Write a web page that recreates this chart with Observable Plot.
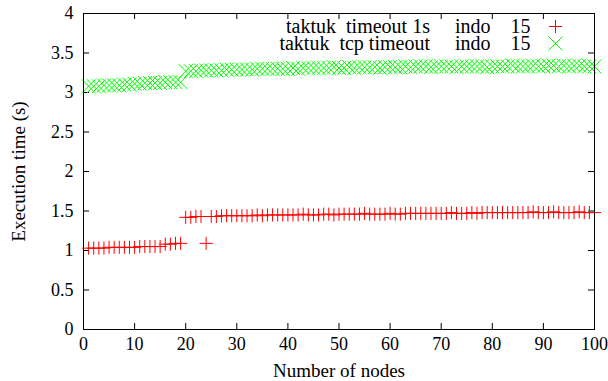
<!DOCTYPE html>
<html>
<head>
<meta charset="utf-8">
<script src="https://cdn.jsdelivr.net/npm/d3@7"></script>
<script src="https://cdn.jsdelivr.net/npm/@observablehq/plot@0.6"></script>
<style>
  html, body { margin: 0; padding: 0; background: #fff; }
  svg text { white-space: pre; }
</style>
</head>
<body>
<div id="chart"></div>
<script>
const nodes = d3.range(1, 101);

const timeout1s = [
  1.03,1.03,1.03,1.03,1.04,1.04,1.04,1.04,1.04,1.04,1.05,1.05,1.05,1.05,1.05,
  1.08,1.08,1.09,1.09,
  1.42,1.42,1.43,1.43,
  1.09,
  1.43,1.43,1.44,1.44,1.44,1.44,1.44,1.44,1.44,1.45,1.44,
  1.45,1.45,1.45,1.45,1.45,1.45,1.45,1.46,1.45,1.45,1.45,1.46,1.46,1.45,1.46,
  1.46,1.46,1.46,1.46,1.47,1.46,1.46,1.46,1.46,1.47,1.46,1.46,1.47,1.47,1.47,
  1.47,1.47,1.47,1.47,1.47,1.47,1.48,1.47,1.47,1.47,1.48,1.47,1.48,1.48,1.48,
  1.48,1.48,1.48,1.48,1.48,1.48,1.48,1.49,1.48,1.48,1.48,1.49,1.48,1.48,1.48,1.48,1.49,1.48,1.48,1.48
];

const tcpTimeout = [
  3.08,3.08,3.08,3.09,3.09,3.09,3.09,3.10,3.10,
  3.11,3.11,3.12,3.12,3.12,3.12,3.13,3.13,3.13,3.13,
  3.27,3.27,3.27,3.28,3.28,3.28,3.28,3.28,3.29,3.29,3.29,
  3.29,3.29,3.29,3.30,3.30,3.30,3.30,3.30,3.30,3.30,3.31,3.30,3.31,3.31,3.31,
  3.31,3.31,3.31,3.32,3.31,3.31,3.32,3.31,3.32,3.32,3.32,3.32,3.31,3.32,3.32,
  3.32,3.32,3.33,3.32,3.33,3.33,3.33,3.32,3.33,3.33,3.33,3.33,3.32,3.33,3.33,
  3.33,3.33,3.33,3.32,3.33,3.33,3.33,3.33,3.34,3.33,3.33,3.33,3.34,3.33,3.33,
  3.34,3.34,3.33,3.34,3.33,3.34,3.34,3.33,3.33,3.33
];

const seriesLabels = [
  "taktuk  timeout 1s     indo    15",
  "taktuk  tcp timeout     indo    15"
];
const xTicks = [0,10,20,30,40,50,60,70,80,90,100];
const yTicks = [0,0.5,1,1.5,2,2.5,3,3.5,4];
const xLabel = "Number of nodes";
const yLabel = "Execution time (s)";

const red = "#ff0000", green = "#00ff00";
const W = 608, H = 381;
const mL = 83, mR = 14, mT = 13, mB = 52;
const fw = W - mL - mR, fh = H - mT - mB, tl = 6;
const font = "Liberation Serif, Times New Roman, serif";

const redData = nodes.map((n, i) => ({n, v: timeout1s[i]}));
const greenData = nodes.map((n, i) => ({n, v: tcpTimeout[i]}));

const chart = Plot.plot({
  width: W, height: H,
  marginLeft: mL, marginRight: mR, marginTop: mT, marginBottom: mB,
  style: {fontFamily: font, fontSize: "18px", color: "black", background: "white"},
  x: {domain: [0, 100], ticks: xTicks, label: null},
  y: {domain: [0, 4], ticks: yTicks, label: null},
  marks: [
    Plot.axisX({ticks: xTicks, tickSize: 0, tickPadding: 8, fontSize: 18, label: null}),
    Plot.axisY({ticks: yTicks, tickSize: 0, tickPadding: 10, fontSize: 18, label: null, tickFormat: d => String(d)}),
    // inward ticks on all four sides
    Plot.tickX(xTicks, {x: d => d, insetTop: fh - tl, stroke: "black"}),
    Plot.tickX(xTicks, {x: d => d, insetBottom: fh - tl, stroke: "black"}),
    Plot.tickY(yTicks, {y: d => d, insetRight: fw - tl, stroke: "black"}),
    Plot.tickY(yTicks, {y: d => d, insetLeft: fw - tl, stroke: "black"}),
    Plot.dot(redData, {x: "n", y: "v", symbol: "plus", r: 4.3, stroke: red, strokeWidth: 1}),
    Plot.dot(greenData, {x: "n", y: "v", symbol: "times", r: 6.4, stroke: green, strokeWidth: 1}),
    // legend
    Plot.text([seriesLabels[0]], {frameAnchor: "top-right", dx: -64, dy: 13, lineAnchor: "middle", text: d => d, textAnchor: "end", fontSize: 20, fill: "black"}),
    Plot.text([seriesLabels[1]], {frameAnchor: "top-right", dx: -64, dy: 30, lineAnchor: "middle", text: d => d, textAnchor: "end", fontSize: 20, fill: "black"}),
    Plot.dot([0], {frameAnchor: "top-right", dx: -39, dy: 13, symbol: "plus", r: 4.3, stroke: red, strokeWidth: 1}),
    Plot.dot([0], {frameAnchor: "top-right", dx: -39, dy: 30, symbol: "times", r: 6.4, stroke: green, strokeWidth: 1}),
    // axis labels
    Plot.text([xLabel], {frameAnchor: "bottom", dy: 41, lineAnchor: "middle", textAnchor: "middle", text: d => d, fontSize: 19, fill: "black"}),
    Plot.text([yLabel], {frameAnchor: "left", dx: -65, rotate: -90, lineAnchor: "middle", textAnchor: "middle", text: d => d, fontSize: 19, fill: "black"}),
    Plot.frame({stroke: "black", strokeWidth: 1})
  ]
});
document.getElementById("chart").appendChild(chart);
</script>
</body>
</html>
